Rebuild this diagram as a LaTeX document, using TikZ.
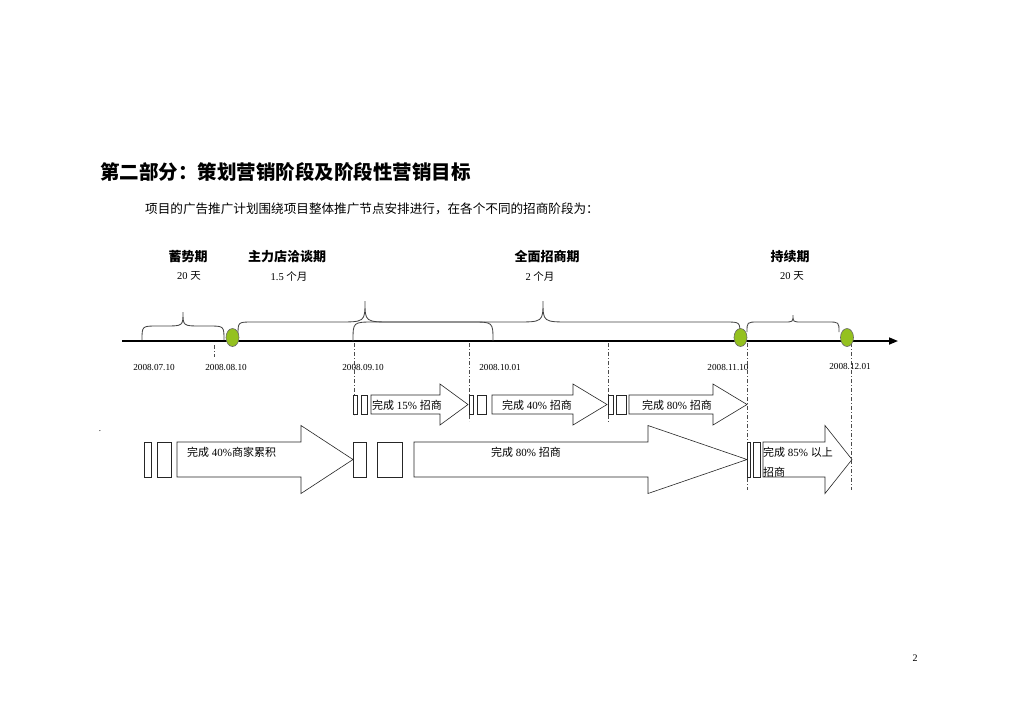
\documentclass[tikz,border=0pt]{standalone}
\usepackage{fontspec}
\setmainfont{Liberation Serif}
\newfontfamily\cjk{Noto Sans CJK SC}
\usetikzlibrary{arrows.meta,shapes.geometric}
\definecolor{milegreen}{HTML}{94C11F}
\definecolor{bracegray}{HTML}{454545}
\tikzset{timeline/.style={line width=1.6pt, -{Triangle[length=9pt,width=7pt]}},
  guideline/.style={draw=black!70, line width=0.6pt, dash pattern=on 4pt off 2pt on 1pt off 2pt},
  bracepath/.style={draw=bracegray, line width=0.85pt},
  milestone/.style={ellipse, draw=black!60, fill=milegreen, minimum width=13pt,
    minimum height=18pt, inner sep=0pt, line width=0.6pt},
  blk/.style={draw=black!85, fill=white, line width=0.6pt},
  phase/.style={font=\cjk\bfseries\fontsize{13}{14}\selectfont, inner sep=0pt},
  span/.style={font=\fontsize{10.5}{12}\selectfont, inner sep=0pt},
  datelbl/.style={font=\fontsize{9.2}{10}\selectfont, inner sep=0pt},
  goal/.style={font=\fontsize{11}{13}\selectfont, inner sep=0pt, anchor=west}}
% brace: left end, right end, level of the bar, tip
\newcommand{\phasebrace}[7]{%
  \draw[bracepath] (#1,#2) .. controls (#1,#5) .. ({#1+1.1*(#2-#5)},#5)
    -- ({#6-1.3*(#5-#7)},#5) .. controls (#6,#5) .. (#6,#7)
    .. controls (#6,#5) .. ({#6+1.3*(#5-#7)},#5)
    -- ({#3-1.1*(#4-#5)},#5) .. controls (#3,#5) .. (#3,#4);}
% block arrow: tail, head base, tip, body top, body bottom, half head
\newcommand{\blkarrow}[6]{%
  \draw[blk] (#1,#4) -- (#2,#4) -- (#2,{(#4+#5)/2-#6}) -- (#3,{(#4+#5)/2})
    -- (#2,{(#4+#5)/2+#6}) -- (#2,#5) -- (#1,#5) -- cycle;}
\begin{document}
\begin{tikzpicture}[x=1pt,y=-1pt]
  \useasboundingbox (0,0) rectangle (1024,724);
  \fill[white] (0,0) rectangle (1024,724);

  \node[anchor=west, inner sep=0pt, font=\cjk\bfseries\fontsize{19.5}{21}\selectfont] (title) at (100,172) {第二部分：策划营销阶段及阶段性营销目标};
  \node[anchor=west, inner sep=0pt, font=\cjk\fontsize{12.6}{14}\selectfont] (intro) at (145,209) {项目的广告推广计划围绕项目整体推广节点安排进行，在各个不同的招商阶段为：};

  % phases
  \node[phase] (p1) at (188,257) {蓄势期};
  \node[phase] (p2) at (287,257) {主力店洽谈期};
  \node[phase] (p3) at (547,257) {全面招商期};
  \node[phase] (p4) at (790,257) {持续期};
  \node[span] (s1) at (189,276) {20 {\cjk 天}};
  \node[span] (s2) at (289,276) {1.5 {\cjk 个月}};
  \node[span] (s3) at (540,276) {2 {\cjk 个月}};
  \node[span] (s4) at (792,276) {20 {\cjk 天}};

  % guide lines
  \foreach \x/\ya/\yb in {214/345/357, 354/343/415, 469/343/421, 608/343/423, 747/343/490, 851/343/490}
    \draw[guideline] (\x,\ya) -- (\x,\yb);

  \coordinate (t0) at (122,341);
  \coordinate (t1) at (898,341);
  \draw[timeline] (t0) -- (t1);

  \phasebrace{142}{340}{224}{340}{326}{183}{312}
  \phasebrace{238}{335}{493}{341}{322}{365}{301}
  \phasebrace{353}{341}{740}{335}{322}{543}{301}
  \phasebrace{747}{332}{839}{332}{322}{793}{315}

  \node[milestone] (m1) at (232.5,337.5) {};
  \node[milestone] (m2) at (740.5,337.5) {};
  \node[milestone] (m3) at (847,337.5) {};

  \node[datelbl] (d1) at (154,367) {2008.07.10};
  \node[datelbl] (d2) at (226,367) {2008.08.10};
  \node[datelbl] (d3) at (363,367) {2008.09.10};
  \node[datelbl] (d4) at (500,367) {2008.10.01};
  \node[datelbl] (d5) at (728,367) {2008.11.10};
  \node[datelbl] (d6) at (850,366) {2008.12.01};

  % goals, first row then second row
  \foreach \a/\b in {353/357, 361/367, 469/473, 477/486, 608/613, 616/626}
    \draw[blk] (\a,395) rectangle (\b,414);
  \foreach \t/\h/\p in {371/440/468, 492/573/607, 629/713/747}
    {\blkarrow{\t}{\h}{\p}{395}{414}{20.5}}
  \foreach \a/\b in {144/151, 157/171, 353/366, 377/402, 747/750, 753/760}
    \draw[blk] (\a,442) rectangle (\b,477);
  \foreach \t/\h/\p in {177/301/353, 414/648/747, 763/825/852}
    {\blkarrow{\t}{\h}{\p}{442}{477}{34}}

  \node[goal] (g1) at (372,405) {{\cjk 完成} 15\% {\cjk 招商}};
  \node[goal] (g2) at (502,405) {{\cjk 完成} 40\% {\cjk 招商}};
  \node[goal] (g3) at (642,405) {{\cjk 完成} 80\% {\cjk 招商}};
  \node[goal] (g4) at (187,452) {{\cjk 完成} 40\%{\cjk 商家累积}};
  \node[goal] (g5) at (491,452) {{\cjk 完成} 80\% {\cjk 招商}};
  \node[goal] (g6) at (763,452) {{\cjk 完成} 85\% {\cjk 以上}};
  \node[goal] (g7) at (763,472) {\cjk 招商};

  \node[inner sep=0pt, font=\small] (dot) at (100,431) {.};
  \node[inner sep=0pt, font=\fontsize{10}{12}\selectfont] (page) at (915,658) {2};
\end{tikzpicture}
\end{document}
